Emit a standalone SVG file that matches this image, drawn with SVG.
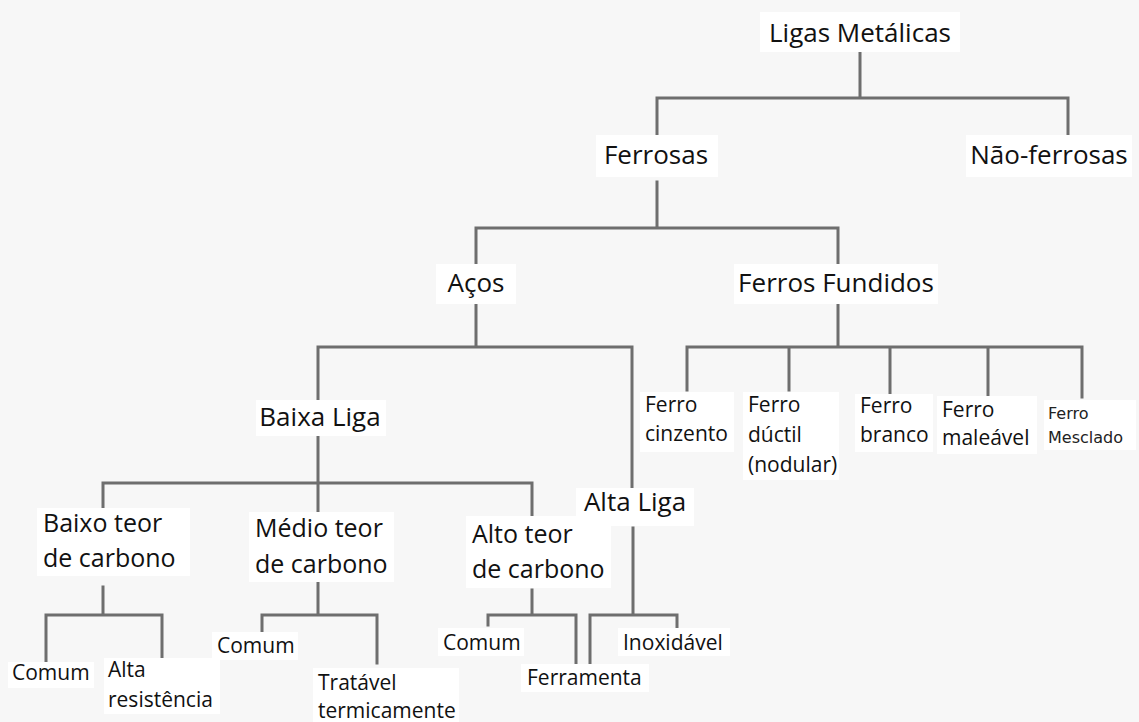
<svg xmlns="http://www.w3.org/2000/svg" width="1139" height="722" viewBox="0 0 1139 722">
<style>
.bg{fill:#f7f7f7}
.box{fill:#ffffff}
.t{font-family:"Open Sans","Noto Sans",sans-serif;fill:#111}
.l1{font-size:26px}
.l3{font-size:25px}
.s{font-size:21px}
.m{font-family:"DejaVu Sans",Verdana,sans-serif;font-size:16px;fill:#222}
.c{fill:none;stroke:#6e6e6e;stroke-width:3;stroke-linecap:square}
</style>
<rect class="bg" x="0" y="0" width="1139" height="722"/>
<g id="connectors">
<path class="c" d="M860 50V98M657 98H1068M657 98V143M1068 98V145"/>
<path class="c" d="M657 182V228M476 228H838M476 228V265M838 228V266"/>
<path class="c" d="M476 302V347M318 347H632M318 347V400M632 347V488"/>
<path class="c" d="M838 300V347M687 347H1082M687 347V390M789 347V390M890 347V393M988 347V395M1082 347V397"/>
<path class="c" d="M318 437V483M103 483H532M103 483V508M318 483V513M532 483V515"/>
<path class="c" d="M103 587V615M46 615H162M46 615V662M162 615V660"/>
<path class="c" d="M318 580V615M262 615H377M262 615V632M377 615V663"/>
<path class="c" d="M532 590V615M488 615H576M488 615V625M576 615V663"/>
<path class="c" d="M633 528V615M590 615H677M590 615V667M677 615V628"/>
</g>
<g id="ligas"><rect class="box" x="760" y="12" width="200" height="40"/><text class="t l1" x="860" y="42" text-anchor="middle">Ligas Metálicas</text></g>
<g id="ferrosas"><rect class="box" x="596" y="135" width="122" height="42"/><text class="t l1" x="656" y="164" text-anchor="middle">Ferrosas</text></g>
<g id="naoferrosas"><rect class="box" x="966" y="135" width="166" height="42"/><text class="t l1" x="1049" y="164" text-anchor="middle">Não-ferrosas</text></g>
<g id="acos"><rect class="box" x="436" y="264" width="80" height="40"/><text class="t l1" x="476" y="292" text-anchor="middle">Aços</text></g>
<g id="fundidos"><rect class="box" x="734" y="264" width="204" height="40"/><text class="t l1" x="836" y="292" text-anchor="middle">Ferros Fundidos</text></g>
<g id="baixaliga"><rect class="box" x="256" y="400" width="130" height="36"/><text class="t l1" x="320" y="426" text-anchor="middle">Baixa Liga</text></g>
<g id="altaliga"><rect class="box" x="576" y="488" width="118" height="38"/><text class="t l1" x="635" y="511" text-anchor="middle">Alta Liga</text></g>
<g id="cinzento"><rect class="box" x="640" y="392" width="94" height="60"/><text class="t s" x="645" y="412">Ferro</text><text class="t s" x="645" y="441">cinzento</text></g>
<g id="ductil"><rect class="box" x="743" y="392" width="96" height="88"/><text class="t s" x="748" y="412">Ferro</text><text class="t s" x="748" y="442">dúctil</text><text class="t s" x="748" y="472">(nodular)</text></g>
<g id="branco"><rect class="box" x="855" y="394" width="78" height="58"/><text class="t s" x="860" y="413">Ferro</text><text class="t s" x="860" y="442">branco</text></g>
<g id="maleavel"><rect class="box" x="937" y="396" width="100" height="58"/><text class="t s" x="942" y="417">Ferro</text><text class="t s" x="942" y="445">maleável</text></g>
<g id="mesclado"><rect class="box" x="1044" y="400" width="92" height="50"/><text class="m" x="1048" y="419">Ferro</text><text class="m" x="1048" y="443">Mesclado</text></g>
<g id="baixoteor"><rect class="box" x="37" y="508" width="153" height="68"/><text class="t l3" x="43" y="532">Baixo teor</text><text class="t l3" x="43" y="567">de carbono</text></g>
<g id="medioteor"><rect class="box" x="249" y="512" width="145" height="70"/><text class="t l3" x="255" y="537">Médio teor</text><text class="t l3" x="255" y="573">de carbono</text></g>
<g id="altoteor"><rect class="box" x="466" y="516" width="145" height="72"/><text class="t l3" x="472" y="543">Alto teor</text><text class="t l3" x="472" y="578">de carbono</text></g>
<g id="comum1"><rect class="box" x="8" y="662" width="86" height="26"/><text class="t s" x="12" y="680">Comum</text></g>
<g id="altares"><rect class="box" x="104" y="658" width="116" height="56"/><text class="t s" x="108" y="677">Alta</text><text class="t s" x="108" y="707">resistência</text></g>
<g id="comum2"><rect class="box" x="212" y="632" width="86" height="28"/><text class="t s" x="217" y="653">Comum</text></g>
<g id="tratavel"><rect class="box" x="313" y="668" width="146" height="54"/><text class="t s" x="318" y="690">Tratável</text><text class="t s" x="318" y="718">termicamente</text></g>
<g id="comum3"><rect class="box" x="438" y="628" width="86" height="28"/><text class="t s" x="443" y="650">Comum</text></g>
<g id="inox"><rect class="box" x="618" y="628" width="112" height="28"/><text class="t s" x="623" y="650">Inoxidável</text></g>
<g id="ferramenta"><rect class="box" x="521" y="664" width="128" height="28"/><text class="t s" x="527" y="685">Ferramenta</text></g>
</svg>
